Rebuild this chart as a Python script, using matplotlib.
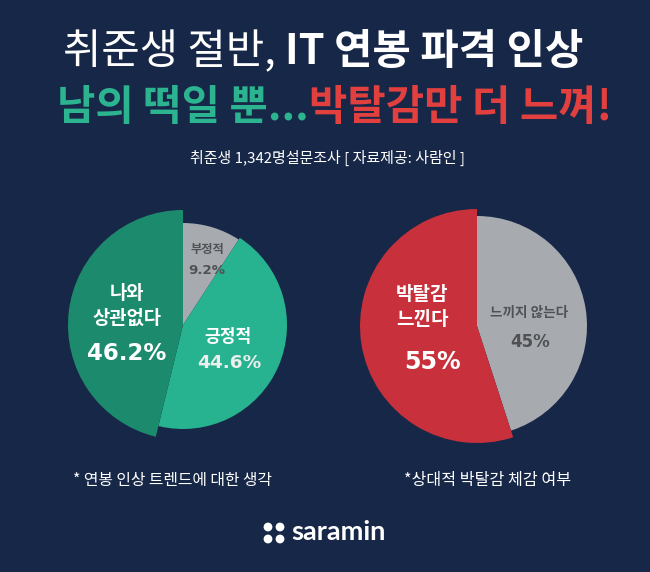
import matplotlib
matplotlib.use("Agg")
import matplotlib.pyplot as plt
from matplotlib.patches import Circle

plt.rcParams['font.family'] = ['Noto Sans CJK KR', 'DejaVu Sans']

# ---- data ----
left_labels = ["부정적", "긍정적", "나와\n상관없다"]
left_values = [9.2, 44.6, 46.2]
right_labels = ["느끼지 않는다", "박탈감\n느낀다"]
right_values = [45, 55]

title1_a = "취준생 절반, "
title1_b = "IT 연봉 파격 인상"
title2_a = "남의 떡일 뿐..."
title2_b = "박탈감만 더 느껴!"
subtitle = "취준생 1,342명설문조사 [ 자료제공: 사람인 ]"
note_left = "* 연봉 인상 트렌드에 대한 생각"
note_right = "*상대적 박탈감 체감 여부"
brand = "saramin"

BG = "#172748"
GRAY = "#a7aaae"
TEAL = "#27b38f"
DGREEN = "#1c8b6d"
RED = "#c8303b"
TITLE_TEAL = "#2bb48f"
TITLE_RED = "#e2403f"
DARKTXT = "#505154"
NUMFONT = ['DejaVu Sans']

W, H = 650, 572
fig = plt.figure(figsize=(6.5, 5.72), dpi=100, facecolor=BG)
ax = fig.add_axes([0, 0, 1, 1])
ax.set_facecolor(BG)

def Y(y):
    return H - y

# ---- titles ----
t1 = ax.text(63, Y(52), title1_a, color="white", fontsize=30, fontweight='medium',
             ha='left', va='center')
ax.annotate(title1_b, xy=(1, 0), xycoords=t1, ha='left', va='bottom',
            color="white", fontsize=30, fontweight='black')
t2 = ax.text(57, Y(108), title2_a, color=TITLE_TEAL, fontsize=30, fontweight='black',
             ha='left', va='center')
ax.annotate(title2_b, xy=(1, 0), xycoords=t2, ha='left', va='bottom',
            color=TITLE_RED, fontsize=30, fontweight='black')
ax.text(328, Y(158), subtitle, color="white", fontsize=10.8, fontweight='medium',
        ha='center', va='center')

# ---- left pie ----
lw, _ = ax.pie(left_values, colors=[GRAY, TEAL, DGREEN], startangle=90,
               counterclock=False, center=(183, Y(325)), radius=102,
               wedgeprops=dict(linewidth=0), frame=True)
lw[1].set_radius(104)
lw[2].set_radius(115)

# ---- right pie ----
rw, _ = ax.pie(right_values, colors=[GRAY, RED], startangle=90,
               counterclock=False, center=(477, Y(326)), radius=110,
               wedgeprops=dict(linewidth=0), frame=True)
rw[1].set_radius(117)

ax.set_xlim(0, W)
ax.set_ylim(0, H)
ax.set_aspect('auto')
ax.axis('off')

# ---- pie labels ----
ax.text(207, Y(249), left_labels[0], color=DARKTXT, fontsize=8.8, fontweight='bold',
        ha='center', va='center')
ax.text(207, Y(270), f"{left_values[0]}%", color=DARKTXT, fontsize=9.6, fontweight='bold',
        ha='center', va='center', family=NUMFONT)
ax.text(127, Y(306), left_labels[2], color="white", fontsize=13.5, fontweight='bold',
        ha='center', va='center', linespacing=1.35)
ax.text(127, Y(353), f"{left_values[2]}%", color="white", fontsize=16.5, fontweight='bold',
        ha='center', va='center', family=NUMFONT)
ax.text(228, Y(337), left_labels[1], color="white", fontsize=12.3, fontweight='bold',
        ha='center', va='center')
ax.text(229, Y(363), f"{left_values[1]}%", color="#eeeeee", fontsize=13.3, fontweight='bold',
        ha='center', va='center', family=NUMFONT)

ax.text(422, Y(307), right_labels[1], color="white", fontsize=13.7, fontweight='bold',
        ha='center', va='center', linespacing=1.35)
ax.text(432, Y(362), f"{right_values[1]}%", color="white", fontsize=17, fontweight='bold',
        ha='center', va='center', family=NUMFONT)
ax.text(529, Y(313), right_labels[0], color=DARKTXT, fontsize=9.8, fontweight='bold',
        ha='center', va='center')
ax.text(530, Y(342), f"{right_values[0]}%", color=DARKTXT, fontsize=12, fontweight='bold',
        ha='center', va='center', family=NUMFONT)

# ---- notes ----
ax.text(172, Y(481), note_left, color="white", fontsize=11.4, fontweight='medium',
        ha='center', va='center')
ax.text(488, Y(481), note_right, color="white", fontsize=11.6, fontweight='medium',
        ha='center', va='center')

# ---- brand ----
for dx, dy in [(0, 0), (12, 0), (0, 12), (12, 12)]:
    ax.add_patch(Circle((268 + dx, Y(527 + dy)), 4.4, color="white", lw=0))
ax.text(291, Y(532), brand, color="white", fontsize=19.5, fontweight='bold',
        ha='left', va='center', family=['Lato', 'DejaVu Sans'])

fig.savefig("out.png", dpi=100, facecolor=BG)
